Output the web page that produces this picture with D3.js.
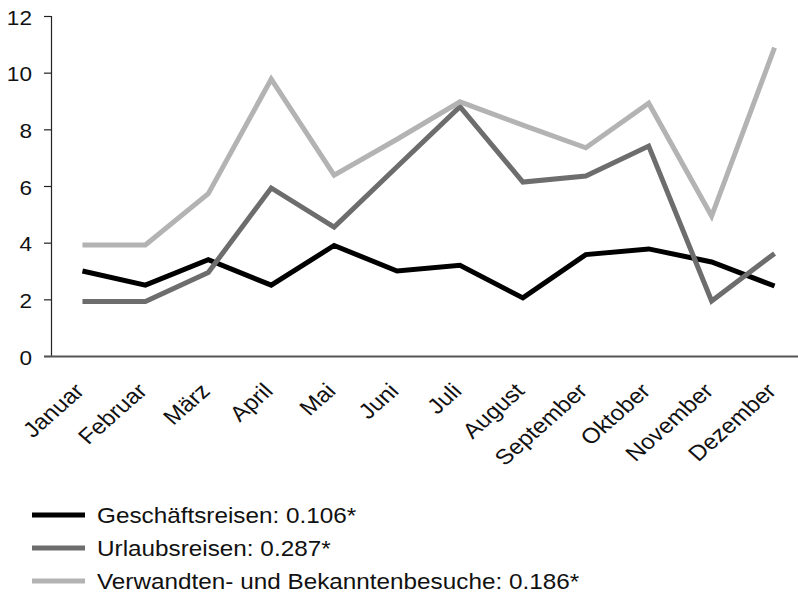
<!DOCTYPE html>
<html>
<head>
<meta charset="utf-8">
<script src="https://cdn.jsdelivr.net/npm/d3@7"></script>
<style>
  html, body { margin: 0; padding: 0; background: #fff; }
  svg { display: block; font-family: "Liberation Sans", Arial, Helvetica, sans-serif; }
</style>
</head>
<body>
<svg id="chart" width="798" height="606"></svg>
<script>
// Monthly shares (%) by travel purpose
const months = ["Januar", "Februar", "März", "April", "Mai", "Juni", "Juli",
  "August", "September", "Oktober", "November", "Dezember"];
const geschaeftsreisen = [3.0, 2.5, 3.4, 2.5, 3.9, 3.0, 3.2, 2.05, 3.58, 3.78, 3.32, 2.47];
const urlaubsreisen = [1.92, 1.92, 2.95, 5.93, 4.55, 6.68, 8.8, 6.14, 6.35, 7.41, 1.94, 3.62];
const verwandtenbesuche = [3.92, 3.92, 5.73, 9.77, 6.38, 7.65, 8.97, 8.15, 7.35, 8.92, 4.94, 10.88];
const yTicks = [0, 2, 4, 6, 8, 10, 12];
const legendLabels = [
  "Geschäftsreisen: 0.106*",
  "Urlaubsreisen: 0.287*",
  "Verwandten- und Bekanntenbesuche: 0.186*"
];
const colors = ["#000000", "#6d6d6d", "#b3b3b3"];

const series = [geschaeftsreisen, urlaubsreisen, verwandtenbesuche];

const svg = d3.select("#chart");
const plotLeft = 51, plotTop = 16, plotBottom = 356, plotRight = 806;
const stretch = 1.13;   // slightly wide lettering
const fontSize = 20;

const x = d3.scaleBand().domain(months).range([plotLeft, plotRight]);
const y = d3.scaleLinear().domain([0, 12]).range([plotBottom, plotTop]);

// y axis
const yAxis = svg.append("g")
  .attr("transform", `translate(${plotLeft},0)`)
  .call(d3.axisLeft(y).tickValues(yTicks).tickSize(7).tickPadding(12));
yAxis.select(".domain").attr("stroke", "#222").attr("stroke-width", 1.2);
yAxis.selectAll(".tick line").attr("stroke", "#222").attr("stroke-width", 1.2);
yAxis.selectAll(".tick text")
  .attr("font-size", fontSize).attr("fill", "#111")
  .attr("font-family", "Liberation Sans, Arial, sans-serif")
  .attr("x", 0)
  .attr("dy", "0.4em")
  .attr("transform", `translate(-19,0) scale(${stretch},1)`);

// x axis
const xAxis = svg.append("g")
  .attr("transform", `translate(0,${plotBottom})`)
  .call(d3.axisBottom(x).tickSize(0).tickPadding(0));
xAxis.select(".domain")
  .attr("d", `M${plotLeft - 7},0.5H${plotRight}`)
  .attr("stroke", "#555").attr("stroke-width", 2);
xAxis.selectAll(".tick text")
  .attr("font-size", 21.5).attr("fill", "#111")
  .attr("font-family", "Liberation Sans, Arial, sans-serif")
  .attr("text-anchor", "end")
  .attr("y", 0)
  .attr("dy", "0.35em")
  .attr("transform", `translate(-3,31) scale(${stretch},1) rotate(-45)`);

// lines
const line = d3.line()
  .x((d, i) => x(months[i]) + x.bandwidth() / 2)
  .y(d => y(d));

series.forEach((vals, k) => {
  svg.append("path")
    .datum(vals)
    .attr("d", line)
    .attr("fill", "none")
    .attr("stroke", colors[k])
    .attr("stroke-width", 5)
    .attr("stroke-linejoin", "miter")
    .attr("stroke-linecap", "butt");
});

// legend
const legend = svg.append("g");
legendLabels.forEach((label, k) => {
  const ly = 515 + k * 33;
  legend.append("line")
    .attr("x1", 32).attr("x2", 85)
    .attr("y1", ly).attr("y2", ly)
    .attr("stroke", colors[k]).attr("stroke-width", 5);
  legend.append("text")
    .attr("transform", `translate(97,${ly}) scale(${stretch},1)`)
    .attr("dy", "0.36em")
    .attr("font-size", 21.5).attr("fill", "#111")
    .text(label);
});
</script>
</body>
</html>
